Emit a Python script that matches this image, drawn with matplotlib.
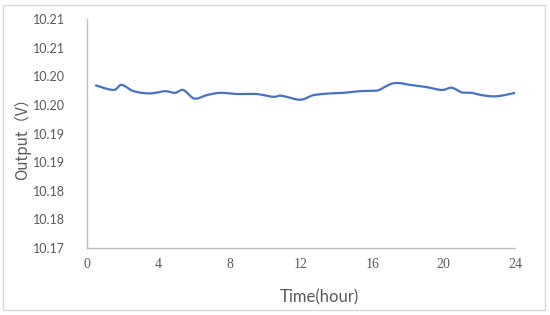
import matplotlib
matplotlib.use("Agg")
import matplotlib.pyplot as plt
from matplotlib.patches import Rectangle
from matplotlib.ticker import FuncFormatter
import numpy as np

hours = [0.5, 1.48, 1.94, 2.6, 3.53, 4.37, 4.93, 5.4, 6.02, 6.71, 7.46, 8.4,
         9.5, 10.45, 10.9, 11.95, 12.7, 13.63, 14.38, 15.31, 16.25, 16.62,
         17.08, 17.55, 18.1, 19.05, 19.89, 20.45, 21.0, 21.57, 22.13, 22.97, 24.0]
output_v = [10.1984, 10.1976, 10.1985, 10.1974, 10.1970, 10.1974, 10.1971,
            10.1976, 10.1961, 10.1967, 10.1971, 10.1969, 10.1969, 10.1964,
            10.1966, 10.1959, 10.1967, 10.1970, 10.1971, 10.1974, 10.1975,
            10.1980, 10.1987, 10.1988, 10.1985, 10.1981, 10.1976, 10.1980,
            10.1972, 10.1971, 10.1967, 10.1965, 10.1971]
x_ticks = [0, 4, 8, 12, 16, 20, 24]
y_ticks = [10.170, 10.175, 10.180, 10.185, 10.190, 10.195, 10.200, 10.205, 10.210]
x_title = "Time(hour)"
y_title = "Output（V）"


def catmull_rom(x, y, n=12):
    x = np.asarray(x, float); y = np.asarray(y, float)
    px = np.concatenate([[x[0]], x, [x[-1]]])
    py = np.concatenate([[y[0]], y, [y[-1]]])
    ox, oy = [], []
    for i in range(1, len(px) - 2):
        t = np.linspace(0, 1, n, endpoint=False)
        for arr, out in ((px, ox), (py, oy)):
            p0, p1, p2, p3 = arr[i - 1], arr[i], arr[i + 1], arr[i + 2]
            out.extend(0.5 * ((2 * p1) + (-p0 + p2) * t +
                              (2 * p0 - 5 * p1 + 4 * p2 - p3) * t ** 2 +
                              (-p0 + 3 * p1 - 3 * p2 + p3) * t ** 3))
    ox.append(x[-1]); oy.append(y[-1])
    return ox, oy


fig = plt.figure(figsize=(5.5, 3.15), dpi=100)
W, H = 550, 315
ax = fig.add_axes([87 / W, 1 - 248 / H, (515 - 87) / W, (248 - 19) / H])

sx, sy = catmull_rom(hours, output_v)
ax.plot(sx, sy, color="#4472C4", lw=1.6, solid_capstyle="round")

ax.set_xlim(0, 24)
ax.set_ylim(10.170, 10.210)
ax.set_xticks(x_ticks)
ax.set_yticks(y_ticks)
ax.yaxis.set_major_formatter(FuncFormatter(lambda v, p: f"{v + 1e-9:.2f}"))

for s in ("top", "right"):
    ax.spines[s].set_visible(False)
for s in ("left", "bottom"):
    ax.spines[s].set_color("#BFBFBF")
    ax.spines[s].set_linewidth(1.0)

ax.tick_params(axis="both", length=0, colors="#595959")
ax.tick_params(axis="y", pad=16, labelsize=9)
ax.tick_params(axis="x", pad=7, labelsize=10)
for lab in ax.get_yticklabels():
    lab.set_fontfamily("Lato")
for lab in ax.get_xticklabels():
    lab.set_fontfamily("Liberation Serif")

fig.text(319 / W, 1 - 297 / H, x_title, ha="center", va="center",
         fontsize=12, color="#595959", family=["Lato", "Noto Sans CJK SC"])
fig.text(23 / W, 1 - 135 / H, y_title, ha="center", va="center", rotation=90,
         fontsize=11, color="#595959", family=["Noto Sans CJK SC", "DejaVu Sans"])

fig.patches.append(Rectangle((3 / W, 1 - 310 / H), 542 / W, 305 / H,
                             transform=fig.transFigure, fill=False,
                             edgecolor="#D9D9D9", lw=1.0))

fig.savefig("out.png", dpi=100)
